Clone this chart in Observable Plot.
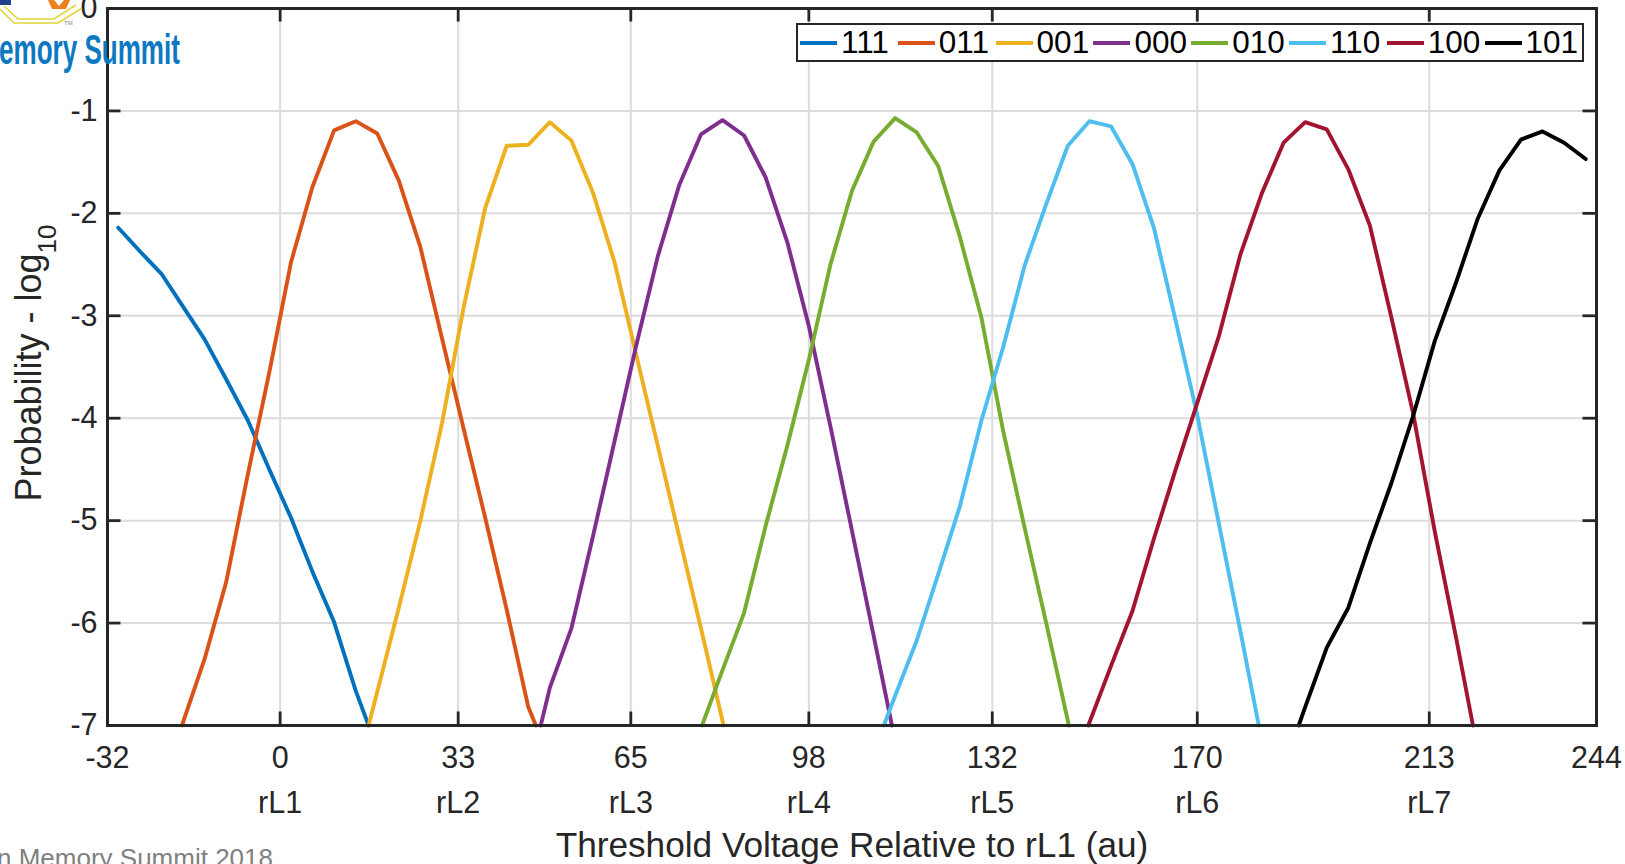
<!DOCTYPE html>
<html>
<head>
<meta charset="utf-8">
<script src="https://cdn.jsdelivr.net/npm/d3@7"></script>
<script src="https://cdn.jsdelivr.net/npm/@observablehq/plot@0.6"></script>
<style>
  body { margin: 0; background: #fff; }
  #wrap { position: relative; width: 1625px; height: 864px; overflow: hidden; background: #fff;
          font-family: "Liberation Sans", Arial, Helvetica, sans-serif; }
  #wrap svg { position: absolute; left: 0; top: 0; }
  #legend { position: absolute; left: 796px; top: 23px; width: 788px; height: 39px; box-sizing: border-box;
            border: 2.8px solid #262626; background: #fff; display: flex; align-items: center; padding-left: 2px; }
  .entry { display: flex; align-items: center; width: 97.8px; flex: none; }
  .sw { width: 37px; height: 4px; margin-right: 4px; flex: none; }
  .lab { font-size: 31.5px; line-height: 1; color: #000; }
  #logoText { position: absolute; left: -1px; top: 29px; font-size: 42px; font-weight: bold; color: #0b78c2;
              transform: scaleX(0.62); transform-origin: 0 0; white-space: nowrap; line-height: 1; }
  #footer { position: absolute; left: -3px; top: 845px; font-size: 26px; color: #808080; white-space: nowrap; line-height: 1; }
  #logoMark { position: absolute; left: 0; top: 0; }
</style>
</head>
<body>
<div id="wrap"></div>
<script>
// ---------- data ----------
const series = ["111", "011", "001", "000", "010", "110", "100", "101"];
const colors = ["#0072BD", "#D95319", "#EDB120", "#7E2F8E", "#77AC30", "#4DBEEE", "#A2142F", "#000000"];

const s111 = [[-30,-2.14],[-26,-2.37],[-22,-2.59],[-18,-2.91],[-14,-3.23],[-10,-3.62],[-6,-4.02],[-2,-4.5],[2,-4.97],[6,-5.5],[10,-5.99],[14,-6.66],[16.4,-7]];
const s011 = [[-18.2,-7],[-14,-6.35],[-10,-5.6],[-6,-4.55],[-2,-3.55],[2,-2.48],[6,-1.74],[10,-1.19],[14,-1.10],[18,-1.22],[22,-1.68],[26,-2.33],[30,-3.22],[34,-4.1],[38,-4.97],[42,-5.87],[46,-6.82],[47.4,-7]];
const s001 = [[16.4,-7],[18,-6.67],[22,-5.85],[26,-5.0],[30,-4.05],[34,-2.92],[38,-1.95],[42,-1.34],[46,-1.33],[50,-1.11],[54,-1.29],[58,-1.8],[62,-2.48],[66,-3.38],[70,-4.27],[74,-5.16],[78,-6.05],[82.2,-7]];
const s000 = [[48.3,-7],[50,-6.63],[54,-6.05],[58,-5.15],[62,-4.22],[66,-3.29],[70,-2.42],[74,-1.72],[78,-1.23],[82,-1.09],[86,-1.24],[90,-1.65],[94,-2.28],[98,-3.1],[102,-4.08],[106,-5.1],[110,-6.12],[113.4,-7]];
const s010 = [[78.2,-7],[82,-6.46],[86,-5.9],[90,-5.05],[94,-4.27],[98,-3.43],[102,-2.5],[106,-1.78],[110,-1.3],[114,-1.07],[118,-1.21],[122,-1.54],[126,-2.23],[130,-3.02],[134,-4.12],[138,-5.07],[142,-6.0],[146.2,-7]];
const s110 = [[111.9,-7],[114,-6.71],[118,-6.17],[122,-5.52],[126,-4.86],[130,-4.02],[134,-3.31],[138,-2.51],[142,-1.91],[146,-1.34],[150,-1.10],[154,-1.15],[158,-1.52],[162,-2.15],[166,-3.05],[170,-3.97],[174,-5.03],[178,-6.08],[181.4,-7]];
const s100 = [[149.8,-7],[154,-6.42],[158,-5.88],[162,-5.17],[166,-4.5],[170,-3.85],[174,-3.2],[178,-2.4],[182,-1.8],[186,-1.31],[190,-1.11],[194,-1.18],[198,-1.57],[202,-2.12],[206,-3.02],[210,-3.95],[214,-5.1],[218,-6.15],[221.1,-7]];
const s101 = [[188.8,-7],[190,-6.82],[194,-6.24],[198,-5.85],[202,-5.22],[206,-4.63],[210,-3.98],[214,-3.25],[218,-2.67],[222,-2.05],[226,-1.58],[230,-1.28],[234,-1.20],[238,-1.31],[242,-1.47]];
const seriesData = [s111, s011, s001, s000, s010, s110, s100, s101];

const xTicks = [-32, 0, 33, 65, 98, 132, 170, 213, 244];
const levelTicks = [0, 33, 65, 98, 132, 170, 213];
const levelLabels = ["rL1", "rL2", "rL3", "rL4", "rL5", "rL6", "rL7"];
const yTicks = [0, -1, -2, -3, -4, -5, -6, -7];
const xLabel = "Threshold Voltage Relative to rL1 (au)";
const yLabel = "Probability - log";
const yLabelSub = "10";
const logoLabel = "emory Summit";
const footerLabel = "n Memory Summit 2018";

// ---------- build ----------
const W = 1625, H = 864, mL = 107, mR = 29, mT = 8, mB = 139;
const plotW = W - mL - mR, plotH = H - mT - mB;
const tickLen = 13.5;
const axisColor = "#262626";
const gridColor = "#dcdcdc";
const font = "'Liberation Sans', Arial, Helvetica, sans-serif";

const rows = series.flatMap((s, i) => seriesData[i].map(([x, y]) => ({series: s, x, y})));
const innerX = xTicks.slice(1, -1);
const innerY = yTicks.filter(d => d < 0 && d > -7);
const levelRows = levelTicks.map((x, i) => ({x, label: levelLabels[i]}));

const chart = Plot.plot({
  width: W, height: H,
  marginLeft: mL, marginRight: mR, marginTop: mT, marginBottom: mB,
  x: {domain: [-32, 244], axis: null},
  y: {domain: [-7, 0], axis: null},
  color: {domain: series, range: colors},
  style: {fontFamily: font, background: "transparent", overflow: "visible"},
  marks: [
    Plot.ruleX(innerX, {x: d => d, stroke: gridColor, strokeWidth: 2}),
    Plot.ruleY(innerY, {y: d => d, stroke: gridColor, strokeWidth: 2}),
    Plot.line(rows, {x: "x", y: "y", z: "series", stroke: "series", strokeWidth: 3.9, strokeLinejoin: "round"}),
    // inward ticks (MATLAB box style)
    Plot.ruleX(innerX, {x: d => d, insetTop: plotH - tickLen, stroke: axisColor, strokeWidth: 2.8}),
    Plot.ruleX(innerX, {x: d => d, insetBottom: plotH - tickLen, stroke: axisColor, strokeWidth: 2.8}),
    Plot.ruleY(innerY, {y: d => d, insetRight: plotW - tickLen, stroke: axisColor, strokeWidth: 2.8}),
    Plot.ruleY(innerY, {y: d => d, insetLeft: plotW - tickLen, stroke: axisColor, strokeWidth: 2.8}),
    Plot.frame({stroke: axisColor, strokeWidth: 3}),
    // tick labels
    Plot.text(xTicks, {x: d => d, text: d => String(d), frameAnchor: "bottom", lineAnchor: "middle", dy: 32.5, fontSize: 30.5, fill: axisColor}),
    Plot.text(levelRows, {x: "x", text: "label", frameAnchor: "bottom", lineAnchor: "middle", dy: 78, fontSize: 30.5, fill: axisColor}),
    Plot.text(yTicks, {y: d => d, text: d => String(d), frameAnchor: "left", lineAnchor: "middle", dx: -10, textAnchor: "end", fontSize: 30.5, fill: axisColor}),
    // axis titles
    Plot.text([xLabel], {text: d => d, frameAnchor: "bottom", lineAnchor: "middle", dy: 120, fontSize: 35.2, fill: axisColor}),
    Plot.text([yLabel], {text: d => d, frameAnchor: "left", textAnchor: "middle", dx: -78, dy: -4, rotate: -90, fontSize: 36, fill: axisColor})
  ]
});

const wrap = document.getElementById("wrap");
wrap.appendChild(chart);

// subscript on the y label
d3.select(chart).selectAll("text").each(function() {
  if (this.textContent === yLabel) {
    d3.select(this).append("tspan").attr("baseline-shift", "sub").attr("font-size", "26px").text(yLabelSub);
  }
});

// legend (horizontal, inside the axes, MATLAB style)
const legend = document.createElement("div");
legend.id = "legend";
series.forEach((s, i) => {
  const e = document.createElement("div");
  e.className = "entry";
  const sw = document.createElement("div");
  sw.className = "sw";
  sw.style.background = colors[i];
  const lab = document.createElement("span");
  lab.className = "lab";
  lab.textContent = s;
  e.appendChild(sw); e.appendChild(lab);
  legend.appendChild(e);
});
wrap.appendChild(legend);

// slide decorations (cropped logo + footer)
const mark = document.createElementNS("http://www.w3.org/2000/svg", "svg");
mark.id = "logoMark";
mark.setAttribute("width", 95); mark.setAttribute("height", 28);
mark.innerHTML = `
  <rect x="0" y="0" width="11" height="5" fill="#23408e"/>
  <polygon points="48,0 70,0 66,9 52,9" fill="#f07f1f"/>
  <polygon points="54,0 64,0 59,6" fill="#ffffff"/>
  <polyline points="0,9 14,23 58,23 82,8" fill="none" stroke="#e4d33a" stroke-width="1.6"/>
  <polyline points="4,6 18,19 54,19 76,5" fill="none" stroke="#e4d33a" stroke-width="1.6"/>
  <text x="64" y="25" font-size="6" fill="#888">TM</text>`;
wrap.appendChild(mark);

const logo = document.createElement("div");
logo.id = "logoText";
logo.textContent = logoLabel;
wrap.appendChild(logo);

const footer = document.createElement("div");
footer.id = "footer";
footer.textContent = footerLabel;
wrap.appendChild(footer);
</script>
</body>
</html>
